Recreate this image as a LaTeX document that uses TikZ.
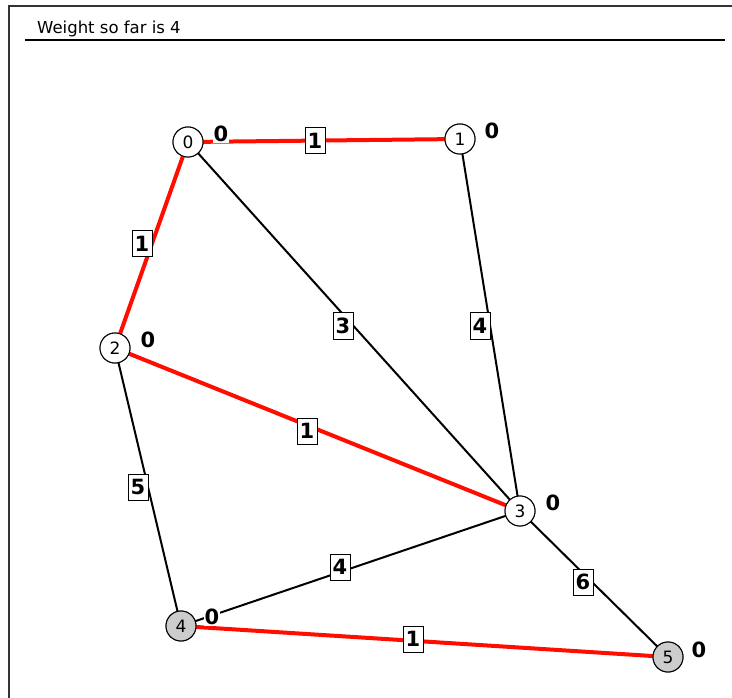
\documentclass[tikz,border=0pt]{standalone}
\usepackage{fontspec}
\setmainfont{DejaVu Sans}
\begin{document}
\begin{tikzpicture}[x=1pt,y=-1pt,
  vert/.style={circle,draw=black,line width=1pt,minimum size=30pt,inner sep=0pt,fill=white,font=\fontsize{17}{17}\selectfont},
  grey/.style={fill=black!20},
  redge/.style={draw=red!90!orange,line width=4pt},
  bedge/.style={draw=black,line width=2pt},
  wlab/.style={draw=black,line width=1pt,fill=white,inner sep=1pt,minimum width=20pt,minimum height=26pt,font=\fontsize{21}{21}\selectfont\bfseries},
  dlab/.style={fill=white,inner sep=1pt,font=\fontsize{21}{21}\selectfont\bfseries}]
\useasboundingbox (0,0) rectangle (732,698);
\draw[line width=1.2pt,black!80] (9,698) -- (9,6) -- (732,6);
\draw[line width=1.2pt] (25,40) -- (725,40);
\node[anchor=base west,font=\fontsize{16.5}{16.5}\selectfont,inner sep=0pt] (title) at (37,34) {Weight so far is 4};
% vertices
\node[vert] (v0) at (188,142) {0};
\node[vert] (v1) at (460,139) {1};
\node[vert] (v2) at (115,348) {2};
\node[vert] (v3) at (520,511) {3};
\node[vert,grey] (v4) at (181,626) {4};
\node[vert,grey] (v5) at (668,657) {5};
% edges
\draw[redge] (v0.center) -- (v1.center);
\draw[redge] (v0.center) -- (v2.center);
\draw[bedge] (v0.center) -- (v3.center);
\draw[bedge] (v1.center) -- (v3.center);
\draw[redge] (v2.center) -- (v3.center);
\draw[bedge] (v2.center) -- (v4.center);
\draw[bedge] (v3.center) -- (v4.center);
\draw[bedge] (v3.center) -- (v5.center);
\draw[redge] (v4.center) -- (v5.center);
% redraw vertices on top
\node[vert] at (v0) {0};
\node[vert] at (v1) {1};
\node[vert] at (v2) {2};
\node[vert] at (v3) {3};
\node[vert,grey] at (v4) {4};
\node[vert,grey] at (v5) {5};
% weight labels
\node[wlab] (w01) at (315,141) {1};
\node[wlab] (w02) at (142,244) {1};
\node[wlab] (w03) at (343,326) {3};
\node[wlab] (w13) at (480,326) {4};
\node[wlab] (w23) at (307,431) {1};
\node[wlab] (w24) at (138,487) {5};
\node[wlab] (w34) at (340,567) {4};
\node[wlab] (w35) at (583,582) {6};
\node[wlab] (w45) at (413,639) {1};
% distance labels
\node[dlab] (d0) at (221,134) {0};
\node[dlab] (d1) at (492,131) {0};
\node[dlab] (d2) at (148,340) {0};
\node[dlab] (d3) at (553,503) {0};
\node[dlab] (d4) at (212,617) {0};
\node[dlab] (d5) at (699,650) {0};
\end{tikzpicture}
\end{document}
